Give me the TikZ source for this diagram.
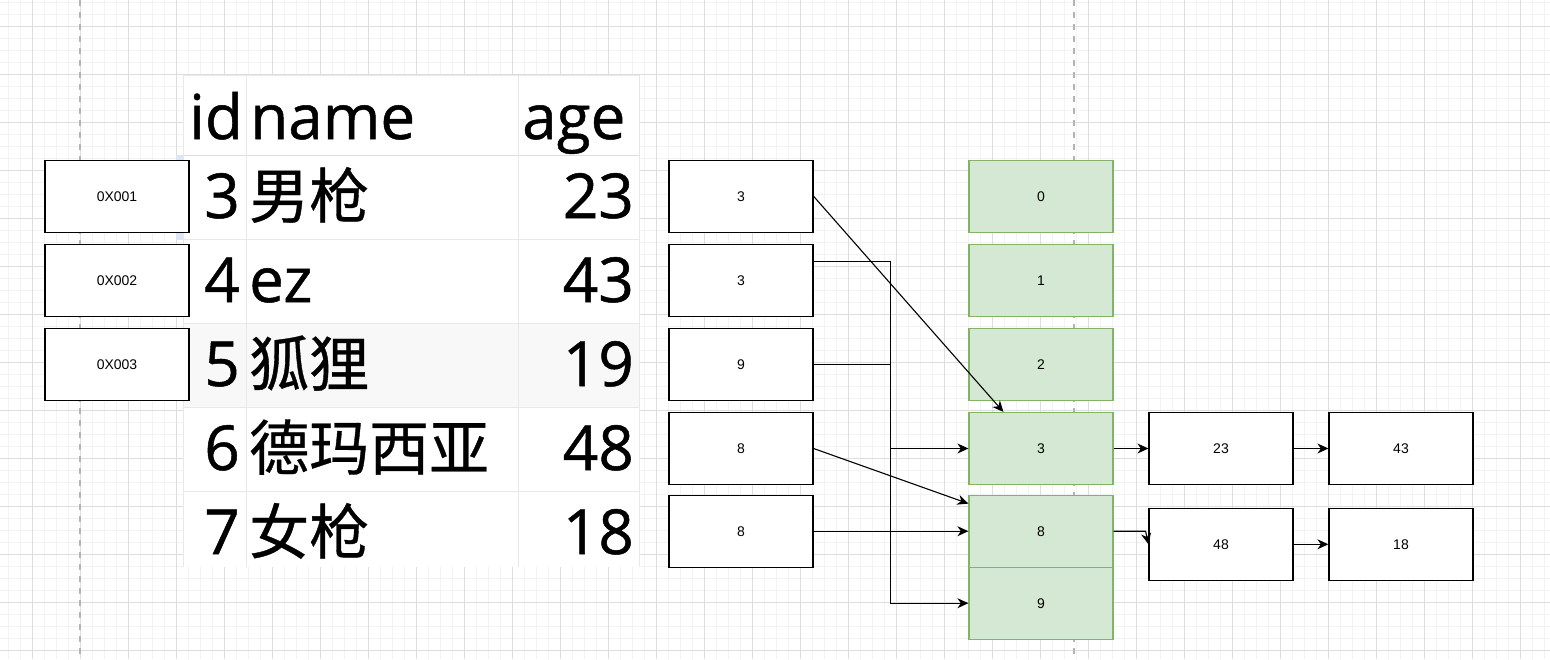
\documentclass[tikz,border=0pt]{standalone}
\usepackage{fontspec}
\setmainfont{Open Sans}
\newfontfamily\bigfont{Open Sans}[RawFeature={embolden=0.8}]
\newfontfamily\cjk{Noto Sans CJK SC}[RawFeature={embolden=0.6}]
\newfontfamily\labfont{Liberation Sans}
\usetikzlibrary{arrows.meta}
\definecolor{gfill}{HTML}{D5E8D4}
\definecolor{gline}{HTML}{82B366}
\definecolor{gridmajor}{HTML}{DDDDDD}
\definecolor{gridminor}{HTML}{F2F2F2}
\definecolor{dashgray}{HTML}{B4B4B4}
\definecolor{tline}{HTML}{E8E8E8}
\definecolor{tshade}{HTML}{F8F8F8}
\definecolor{selblue}{HTML}{DCE6F4}
\begin{document}
\begin{tikzpicture}[x=1pt,y=-1pt,
  box/.style={draw=black, line width=1.2pt, fill=white, minimum width=144pt, minimum height=72pt, inner sep=0pt, font=\labfont\fontsize{14}{16}\selectfont},
  gbox/.style={box, draw=gline, fill=gfill},
  arr/.style={line width=1.1pt, -{Stealth[length=11pt,width=10pt,inset=3.5pt]}},
  bigtxt/.style={inner sep=0pt, font=\bigfont\fontsize{62}{70}\selectfont},
  cjktxt/.style={inner sep=0pt, font=\cjk\fontsize{60}{70}\selectfont},
  minorline/.style={draw=gridminor, line width=1pt},
  majorline/.style={draw=gridmajor, line width=1pt},
  dashline/.style={draw=dashgray, line width=2pt, dash pattern=on 6pt off 6pt},
  tgrid/.style={draw=tline, line width=1pt}]
\useasboundingbox (0,0) rectangle (1550,659);
\fill[white] (0,0) rectangle (1550,659);
% background grid
\foreach \x in {8,20,...,1550} \draw[minorline] (\x,0) -- (\x,659);
\foreach \y in {2,14,...,659} \draw[minorline] (0,\y) -- (1550,\y);
\foreach \x in {32,80,...,1550} \draw[majorline] (\x,0) -- (\x,659);
\foreach \y in {26,74,...,659} \draw[majorline] (0,\y) -- (1550,\y);
\draw[dashline] (80,0) -- (80,659);
\draw[dashline] (1074,0) -- (1074,659);
% table picture
\fill[white] (183,75) rectangle (640,567);
\fill[tshade] (183,323) rectangle (640,407);
\fill[selblue] (176,155) rectangle (183,240);
\foreach \y in {239,323,407,491} \draw[tgrid] (183,\y) -- (640,\y);
\draw[draw=gridmajor, line width=1pt] (183,155) -- (640,155);
\draw[tgrid] (183,75) -- (640,75);
\draw[tgrid] (246,75) -- (246,567);
\draw[tgrid] (518,75) -- (518,567);
\draw[tgrid] (183.5,75) -- (183.5,567);
\draw[tgrid] (639.5,155) -- (639.5,567);
\draw[draw=selblue!80!blue!40, line width=1.5pt] (639.5,75) -- (639.5,155);
\node[bigtxt, anchor=base west] (hid) at (189,139) {id};
\node[bigtxt, anchor=base west] (hname) at (250,139) {name};
\node[bigtxt, anchor=base west] (hage) at (522,139) {age};
\node[bigtxt, anchor=base east] (i1) at (240,218) {3};
\node[bigtxt, anchor=base east] (i2) at (240,302) {4};
\node[bigtxt, anchor=base east] (i3) at (240,386) {5};
\node[bigtxt, anchor=base east] (i4) at (240,470) {6};
\node[bigtxt, anchor=base east] (i5) at (240,554) {7};
\node[cjktxt, anchor=base west] (n1) at (249,218) {男枪};
\node[bigtxt, anchor=base west] (n2) at (249,302) {ez};
\node[cjktxt, anchor=base west] (n3) at (249,386) {狐狸};
\node[cjktxt, anchor=base west] (n4) at (249,470) {德玛西亚};
\node[cjktxt, anchor=base west] (n5) at (249,554) {女枪};
\node[bigtxt, anchor=base east] (ag1) at (634,218) {23};
\node[bigtxt, anchor=base east] (ag2) at (634,302) {43};
\node[bigtxt, anchor=base east] (ag3) at (634,386) {19};
\node[bigtxt, anchor=base east] (ag4) at (634,470) {48};
\node[bigtxt, anchor=base east] (ag5) at (634,554) {18};
% address boxes
\node[box] (a1) at (117,196.5) {0X001};
\node[box] (a2) at (117,280.5) {0X002};
\node[box] (a3) at (117,364.5) {0X003};
% hash value boxes
\node[box] (h1) at (741,196.3) {3};
\node[box] (h2) at (741,280.3) {3};
\node[box] (h3) at (741,364.3) {9};
\node[box] (h4) at (741,448.5) {8};
\node[box] (h5) at (741,531.2) {8};
% buckets
\node[gbox] (g0) at (1041,196.3) {0};
\node[gbox] (g1) at (1041,280.3) {1};
\node[gbox] (g2) at (1041,364.3) {2};
\node[gbox] (g3) at (1041,448.5) {3};
\node[gbox] (g8) at (1041,531.2) {8};
\node[gbox] (g9) at (1041,603.2) {9};
% chained values
\node[box] (r23) at (1221,448.5) {23};
\node[box] (r43) at (1401,448.5) {43};
\node[box] (r48) at (1221,544.3) {48};
\node[box] (r18) at (1401,544.3) {18};
% connectors
\coordinate (g3t) at ([xshift=35pt]g3.north west);
\coordinate (h2s) at ([yshift=-18pt]h2.north east);
\coordinate (bx) at (890.5,0);
\coordinate (g8w) at ([yshift=-9pt]g8.north west);
\coordinate (g8k) at ([xshift=32pt]g8.east);
\draw[arr] (h1.east) -- (g3t);
\draw[arr] (h2s) -- (h2s -| bx) |- (g3.west);
\draw[arr] (h3.east) -- (h3.east -| bx) |- (g9.west);
\draw[arr] (h4.east) -- (g8w);
\draw[arr] (h5.east) -- (g8.west);
\draw[arr] (g3.east) -- (r23.west);
\draw[arr] (r23.east) -- (r43.west);
\draw[arr] (g8.east) -- (g8k) -- (r48.west);
\draw[arr] (r48.east) -- (r18.west);
\end{tikzpicture}
\end{document}
